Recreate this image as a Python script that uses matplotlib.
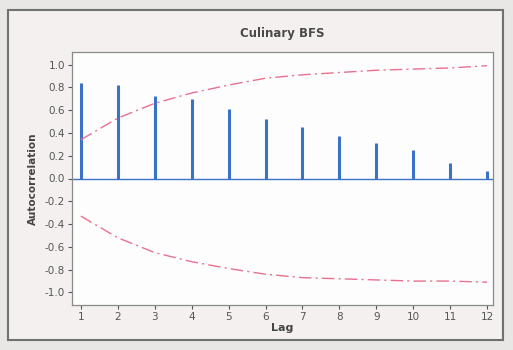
import matplotlib.pyplot as plt
from matplotlib.patches import Rectangle

# data
lags = [1, 2, 3, 4, 5, 6, 7, 8, 9, 10, 11, 12]
acf = [0.84, 0.82, 0.72, 0.70, 0.61, 0.52, 0.45, 0.37, 0.31, 0.25, 0.14, 0.07]
upper = [0.34, 0.53, 0.66, 0.75, 0.82, 0.88, 0.91, 0.93, 0.95, 0.96, 0.97, 0.99]
lower = [-0.33, -0.52, -0.65, -0.73, -0.79, -0.84, -0.87, -0.88, -0.89, -0.90, -0.90, -0.91]
yticks = [1.0, 0.8, 0.6, 0.4, 0.2, 0.0, -0.2, -0.4, -0.6, -0.8, -1.0]

fig = plt.figure(figsize=(5.13, 3.5), dpi=100)
fig.patch.set_facecolor('#e9e7e6')

# panel with frame, behind the axes
W, H = 513, 350
fig.add_artist(Rectangle((8 / W, 1 - 340 / H), 495 / W, 330 / H,
                         transform=fig.transFigure, facecolor='#f4f0f0',
                         edgecolor='#6f7370', linewidth=1.5, zorder=-5))

ax = fig.add_axes([72 / W, 1 - 305 / H, 421 / W, 253 / H])
ax.set_facecolor('#fdfdfd')

ax.vlines(lags, 0, acf, color='#3a72c8', linewidth=2.2)
ax.axhline(0, color='#3a72c8', linewidth=1.0)
dash = (0, (9, 3, 1.5, 3))
ax.plot(lags, upper, color='#e9708f', linestyle=dash, linewidth=1.0)
ax.plot(lags, lower, color='#e9708f', linestyle=dash, linewidth=1.0)

ax.set_xlim(0.76, 12.16)
ax.set_ylim(-1.11, 1.11)
ax.set_xticks(lags)
ax.set_yticks(yticks)
ax.set_yticklabels([f'{v:.1f}' for v in yticks])
ax.tick_params(labelsize=7.5, colors='#555555', length=3, width=0.8, pad=2)
for s in ax.spines.values():
    s.set_color('#8a8a8a')
    s.set_linewidth(0.9)

ax.set_title('Culinary BFS', fontsize=8.5, fontweight='bold', color='#4a4a4a', pad=11)
ax.set_xlabel('Lag', fontsize=8, fontweight='bold', color='#444444', labelpad=1)
ax.set_ylabel('Autocorrelation', fontsize=7.5, fontweight='bold', color='#444444', labelpad=5)

fig.savefig('out.png', dpi=100, facecolor=fig.get_facecolor())
